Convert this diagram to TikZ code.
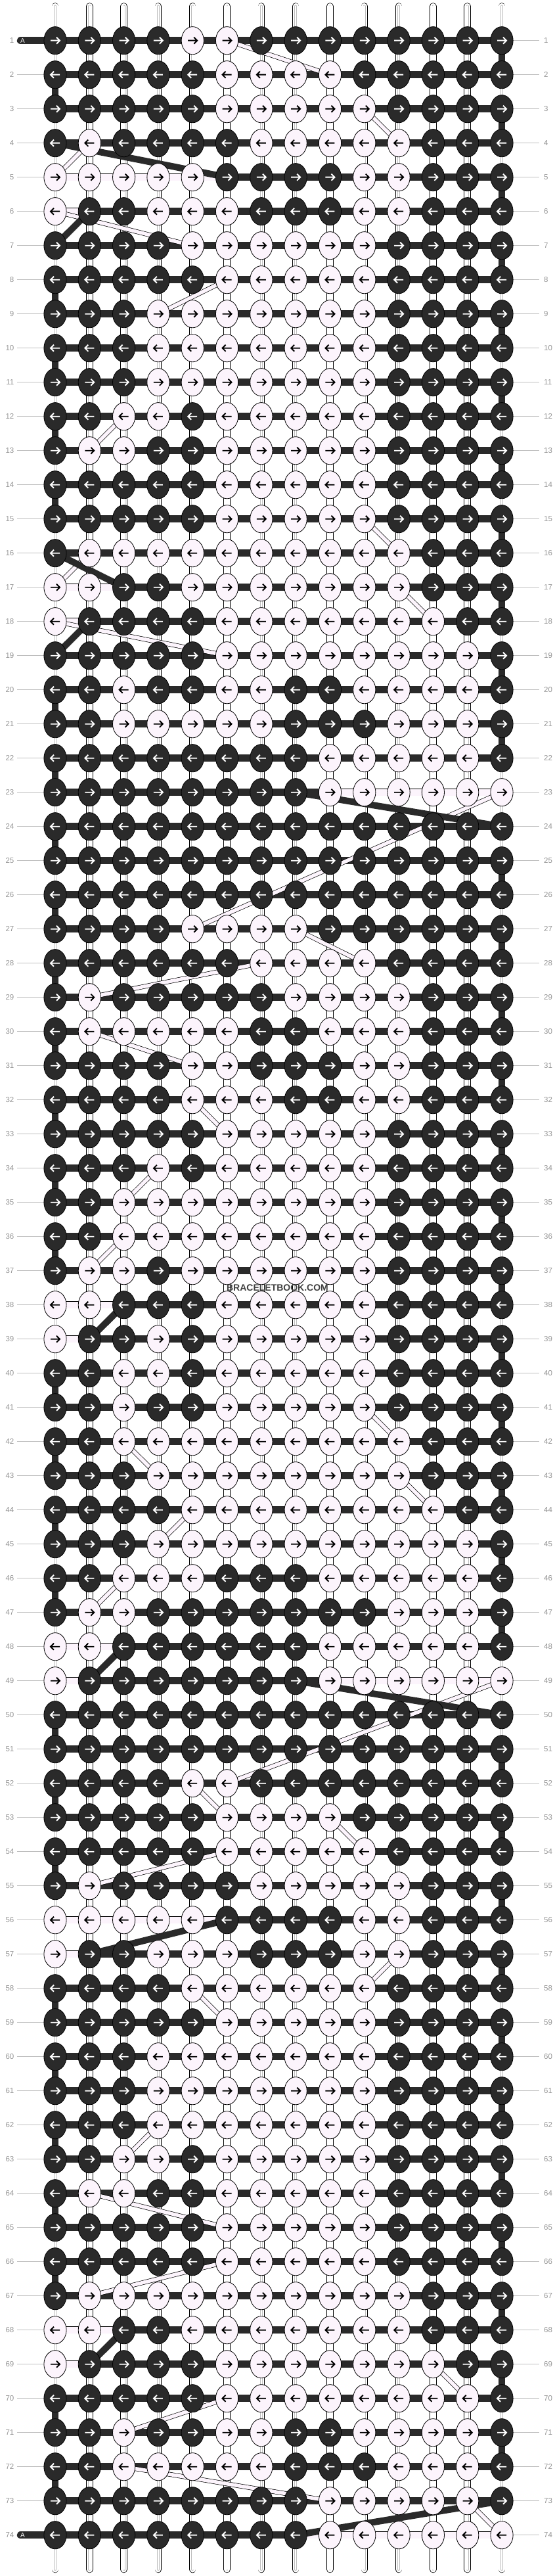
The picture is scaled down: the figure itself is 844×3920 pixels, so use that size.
\documentclass[tikz,border=0pt]{standalone}
\usepackage{fontspec}
\setmainfont{Liberation Sans}
\usetikzlibrary{shapes.geometric}
\definecolor{knotdark}{RGB}{42,42,42}
\definecolor{knotlight}{RGB}{252,244,252}
\definecolor{rowgrey}{RGB}{150,150,150}
\definecolor{leadgrey}{RGB}{190,190,190}
\definecolor{markgrey}{RGB}{64,64,64}
\pgfdeclarelayer{paper}
\pgfdeclarelayer{strings}
\pgfdeclarelayer{bands}
\pgfsetlayers{paper,strings,bands,main}

% one knot per letter of a row pattern
\newcount\kcol
\def\scanrow#1{%
  \ifx#1\relax\else
    \global\advance\kcol by 1
    \placeknot{#1}%
    \expandafter\scanrow
  \fi}
\newcommand\placeknot[1]{%
  \edef\kc{\the\kcol}%
  \pgfmathsetmacro\kx{84+(\kc-1)*52.31}%
  \node[knot#1] (k-\r-\kc) at (\kx,\ky) {};
  \draw[arrow#1] ({\kx-7*\ad},\ky) -- ({\kx+7*\ad},\ky)
    ({\kx+2*\ad},\ky-5) -- ({\kx+7*\ad},\ky) -- ({\kx+2*\ad},\ky+5);}

\begin{document}
\begin{tikzpicture}[x=1pt, y=-1pt,
    knot/.style = {ellipse, draw=black, line width=.8pt,
      minimum width=34.2pt, minimum height=42.2pt, inner sep=0pt},
    knotB/.style = {knot, fill=knotdark},
    knotW/.style = {knot, fill=knotlight},
    arrowB/.style = {white, line width=1.9pt},
    arrowW/.style = {black, line width=1.9pt},
    hdark/.style = {draw=knotdark, line width=11.5pt},
    hlight/.style = {draw=black, line width=.7pt, double=knotlight, double distance=10.1pt},
    vdark/.style = {draw=knotdark, line width=10.5pt},
    vstring/.style = {draw=black, line width=.7pt, double=white, double distance=9.1pt,
      line cap=round},
    vcore/.style = {draw=leadgrey, line width=.6pt, double=white, double distance=2.6pt,
      line cap=round},
    bandlight/.style = {draw=black, line width=.7pt, double=knotlight, double distance=5.6pt},
    banddark/.style = {draw=knotdark, line width=10pt},
    lead/.style = {draw=leadgrey, line width=1pt},
    astring/.style = {draw=knotdark, line width=11.5pt, line cap=round},
    rowlabel/.style = {text=rowgrey, font=\fontsize{11.5}{12}\selectfont, inner sep=0pt},
    alabel/.style = {text=white, font=\fontsize{10}{10}\selectfont, inner sep=0pt},
    watermark/.style = {text=markgrey, inner sep=0pt, font=\bfseries\fontsize{14}{14}\selectfont}
  ]
  \begin{pgfonlayer}{paper}
    \fill[white] (0,0) rectangle (844,3920);
  \end{pgfonlayer}
  \useasboundingbox (0,0) rectangle (844,3920);

  % knots, row by row
  \foreach \r/\pat in {
    1/BBBBWWBBBBBBBB, 2/BBBBBWWWWBBBBB, 3/BBBBBWWWWWBBBB, 4/BWBBBBWWWWWBBB,
    5/WWWWWBBBBWWBBB, 6/WBBWWWBBBWWBBB, 7/BBBBWWWWWWBBBB, 8/BBBBBWWWWWBBBB,
    9/BBBWWWWWWWBBBB, 10/BBBWWWWWWWBBBB, 11/BBBWWWWWWWBBBB, 12/BBWWBWWWWWBBBB,
    13/BWWBBWWWWWBBBB, 14/BBBBBWWWWWBBBB, 15/BBBBBWWWWWBBBB, 16/BWWWWWWWWWWBBB,
    17/WWBBWWWWWWWBBB, 18/WBBBBWWWWWWWBB, 19/BBBBBWWWWWWWWB, 20/BBWBBWWBBWWWWB,
    21/BBWWWWWBBBWWWB, 22/BBBBBBBBWWWWWB, 23/BBBBBBBBWWWWWW, 24/BBBBBBBBBBBBBB,
    25/BBBBBBBBBBBBBB, 26/BBBBBBBBBBBBBB, 27/BBBBWWWWBBBBBB, 28/BBBBBBWWWWBBBB,
    29/BWBBBBBWWWWBBB, 30/BWWWWWBBWWWBBB, 31/BBBBWWBBBWWBBB, 32/BBBBWWWBBWWBBB,
    33/BBBBBWWWWWBBBB, 34/BBBWBWWWWWBBBB, 35/BBWWWWWWWWBBBB, 36/BBWWWWWWWWBBBB,
    37/BWWBWWWWWWBBBB, 38/WWBBBWWWWWBBBB, 39/WBBWBWWWWWBBBB, 40/BBWWBWWWWWBBBB,
    41/BBWBBWWWWWBBBB, 42/BBWWWWWWWWWBBB, 43/BBBWWWWWWWWBBB, 44/BBBBWWWWWWWWBB,
    45/BBBWWWWWWWWWWB, 46/BBWWWBBBWWWWWB, 47/BWWBBBBBBBWWWB, 48/WWBBBBBBWWWWWB,
    49/WBBBBBBBWWWWWW, 50/BBBBBBBBBBBBBB, 51/BBBBBBBBBBBBBB, 52/BBBBWWBBBBBBBB,
    53/BBBBBWWWWBBBBB, 54/BBBBBWWWWWBBBB, 55/BWBBBBWWWWWBBB, 56/WWWWWBBBBWWBBB,
    57/WBBWWWBBBWWBBB, 58/BBBBWWWWWWBBBB, 59/BBBBBWWWWWBBBB, 60/BBBWWWWWWWBBBB,
    61/BBBWWWWWWWBBBB, 62/BBBWWWWWWWBBBB, 63/BBWWBWWWWWBBBB, 64/BWWBBWWWWWBBBB,
    65/BBBBBWWWWWBBBB, 66/BBBBBWWWWWBBBB, 67/BWWWWWWWWWWBBB, 68/WWBBWWWWWWWBBB,
    69/WBBBBWWWWWWWBB, 70/BBBBBWWWWWWWWB, 71/BBWBBWWBBWWWWB, 72/BBWWWWWBBBWWWB,
    73/BBBBBBBBWWWWWB, 74/BBBBBBBBWWWWWW}{
    \pgfmathsetmacro\ky{61.7+(\r-1)*52}
    \pgfmathtruncatemacro\ad{1-2*mod(\r+1,2)}
    \global\kcol=0
    \expandafter\scanrow\pat\relax
    \node[rowlabel, anchor=east] (ln-\r) at (21.5,\ky) {\r};
    \node[rowlabel, anchor=west] (rn-\r) at (828,\ky) {\r};
    \coordinate (ll-\r) at (26,\ky);
    \coordinate (rl-\r) at (821,\ky);
  }

  \begin{pgfonlayer}{strings}
    % row leaders
    \foreach \r in {2,...,73}
      \draw[lead] (ll-\r) -- (k-\r-1.center);
    \foreach \r in {1,...,74}
      \draw[lead] (k-\r-14.center) -- (rl-\r);
    % vertical strings, top to bottom
    \foreach \c in {1,...,14}{
      \coordinate (top-\c) at (k-1-\c |- 0,9.5);
      \coordinate (bot-\c) at (k-74-\c |- 0,3910);
      \draw[vstring] (top-\c) -- (bot-\c);
      \draw[vcore] (top-\c) -- (bot-\c);
    }
    % string A in and out
    \foreach \r in {1,74}{
      \coordinate (at-\r) at (31.5,{61.7+(\r-1)*52});
      \draw[astring] (at-\r) -- (k-\r-1.center);
    }
    % horizontal links
    \foreach \r in {1,...,74}
      \draw[hdark] (k-\r-1.center) -- (k-\r-14.center);
    \foreach \r/\a/\b in {5/1/5, 6/1/1, 17/1/2, 18/1/1, 23/9/13, 38/1/2, 39/1/1,
        48/1/2, 49/1/1, 49/9/13, 56/1/5, 57/1/1, 68/1/2, 69/1/1, 74/8/13}{
      \pgfmathtruncatemacro\n{\b+1}
      \draw[hlight] (k-\r-\a.center) -- (k-\r-\n.center);
    }
    % turns of string A at the edges
    \foreach \r [evaluate=\r as \s using int(\r+1)] in {1,3,5,7,9,11,13,15,17,19,21,25,27,
        29,31,33,35,37,39,41,43,45,47,51,53,55,57,59,61,63,65,67,69,71}
      \draw[vdark] (k-\r-14.center) -- (k-\s-14.center);
    \foreach \r [evaluate=\r as \s using int(\r+1)] in {2,8,10,12,14,20,22,24,26,28,30,
        32,34,36,40,42,44,46,50,52,54,58,60,62,64,66,70,72}
      \draw[vdark] (k-\r-1.center) -- (k-\s-1.center);
  \end{pgfonlayer}

  \begin{pgfonlayer}{bands}
    \foreach \ra/\ca/\rb/\cb in {1/6/2/9, 3/10/4/11, 4/2/5/1, 6/1/7/5, 8/6/9/4,
        12/3/13/2, 15/10/16/11, 16/2/17/1, 17/11/18/12, 18/1/19/6, 23/14/27/5,
        27/8/28/10, 28/7/29/2, 30/2/31/5, 32/5/33/6, 34/4/35/3, 36/3/37/2,
        41/10/42/11, 42/3/43/4, 43/11/44/12, 44/5/45/4, 46/3/47/2, 49/14/52/6,
        52/5/53/6, 53/9/54/10, 54/6/55/2, 57/11/58/10, 58/5/59/6, 62/4/63/3,
        64/2/65/6, 66/6/67/2, 69/12/70/13, 70/6/71/3, 72/3/73/9, 73/13/74/14}
      \draw[bandlight] (k-\ra-\ca.center) -- (k-\rb-\cb.center);
    \foreach \ra/\ca/\rb/\cb in {4/1/5/6, 6/2/7/1, 16/1/17/3, 18/2/19/1, 23/8/24/14,
        38/3/39/2, 48/3/49/2, 49/8/50/14, 56/6/57/2, 68/3/69/2, 73/14/74/8}
      \draw[banddark] (k-\ra-\ca.center) -- (k-\rb-\cb.center);
  \end{pgfonlayer}

  \node[alabel] (al-1) at (34.5,61.7) {A};
  \node[alabel] (al-74) at (34.5,3857.7) {A};
  \node[watermark] (wm) at (422.5,1959.7) {BRACELETBOOK.COM};
\end{tikzpicture}
\end{document}
